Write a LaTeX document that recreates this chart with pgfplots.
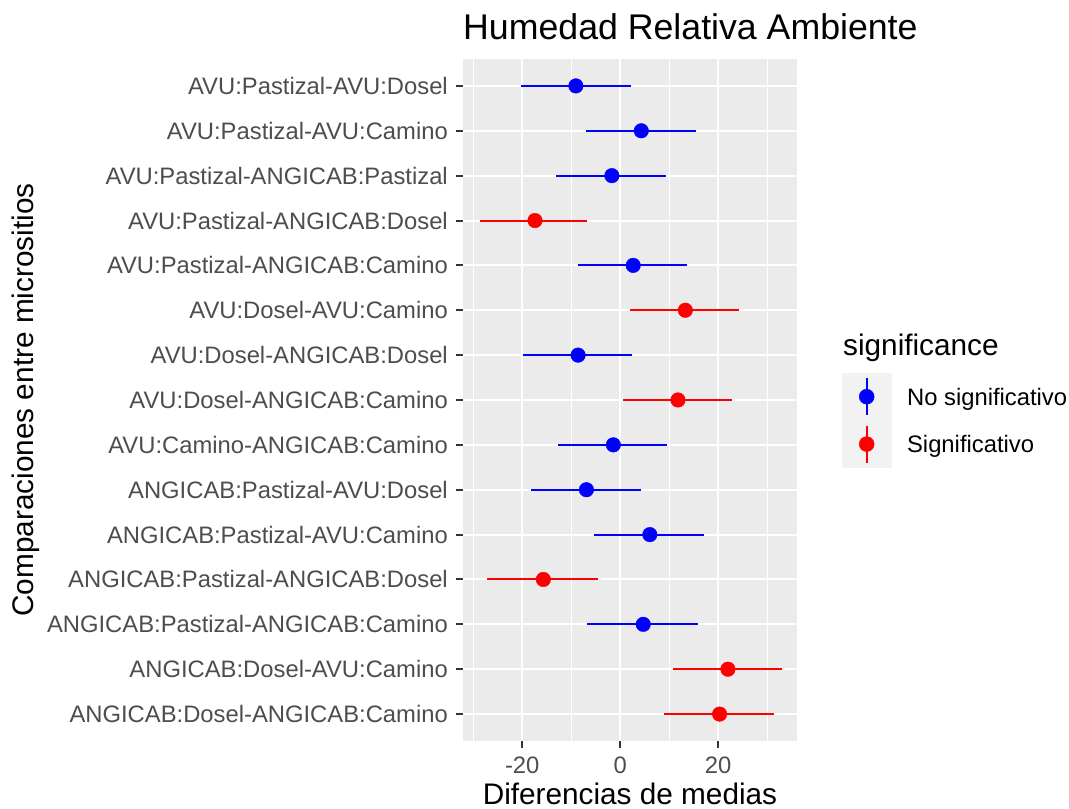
\documentclass[border=0pt]{standalone}
\usepackage{fontspec}
\setmainfont{Liberation Sans}
\usepackage{pgfplots}
\pgfplotsset{compat=1.18}
\usepackage{pgfplotstable}
\definecolor{panel}{HTML}{EBEBEB}
\definecolor{keybg}{HTML}{F2F2F2}
\definecolor{tickgray}{HTML}{4D4D4D}
\definecolor{tickline}{HTML}{333333}

\pgfplotstableread{
y est em ep
15 -9.05 11.25 11.25
14 4.3 11.3 11.1
13 -1.7 11.4 11.0
11 2.65 11.25 11.05
9 -8.6 11.3 11.05
7 -1.4 11.4 11.05
6 -6.9 11.3 11.05
5 6.05 11.35 11.05
3 4.7 11.4 11.1
}\nosig

\pgfplotstableread{
y est em ep
12 -17.4 11.3 10.7
10 13.3 11.4 10.9
8 11.8 11.3 11.1
4 -15.7 11.4 11.1
2 22.0 11.25 11.1
1 20.3 11.3 11.1
}\sig

\begin{document}
\begin{tikzpicture}
\begin{axis}[
  at={(463pt,68pt)}, anchor=south west,
  scale only axis, width=334pt, height=682pt,
  xmin=-32.1, xmax=36.1, ymin=0.4, ymax=15.6,
  axis background/.style={fill=panel},
  axis x line*=bottom, axis y line*=left,
  axis line style={draw=none},
  tick align=outside, major tick length=7.4pt, minor tick length=0pt,
  tick style={tickline, line width=2pt},
  xtick={-20,0,20}, xticklabels={-20,0,20},
  minor xtick={-30,-10,10,30},
  ytick={1,...,15},
  yticklabels={ANGICAB:Dosel-ANGICAB:Camino,ANGICAB:Dosel-AVU:Camino,ANGICAB:Pastizal-ANGICAB:Camino,ANGICAB:Pastizal-ANGICAB:Dosel,ANGICAB:Pastizal-AVU:Camino,ANGICAB:Pastizal-AVU:Dosel,AVU:Camino-ANGICAB:Camino,AVU:Dosel-ANGICAB:Camino,AVU:Dosel-ANGICAB:Dosel,AVU:Dosel-AVU:Camino,AVU:Pastizal-ANGICAB:Camino,AVU:Pastizal-ANGICAB:Dosel,AVU:Pastizal-ANGICAB:Pastizal,AVU:Pastizal-AVU:Camino,AVU:Pastizal-AVU:Dosel},
  xmajorgrids, xminorgrids, ymajorgrids,
  major grid style={white, line width=2pt},
  minor grid style={white, line width=1pt},
  ticklabel style={font=\fontsize{23.8}{26}\selectfont, text=tickgray},
  yticklabel style={anchor=east, inner sep=0pt, xshift=-7.6pt},
  xticklabel style={anchor=north, inner sep=0pt, yshift=-8.6pt},
  legend style={at={(1.13473,0.5396)}, anchor=north west, draw=none, fill=none,
    inner sep=0pt, outer sep=0pt, row sep=0pt, column sep=0pt,
    nodes={inner sep=0pt, text depth=0pt, font=\fontsize{23.8}{26}\selectfont, text=black},
    cells={anchor=base west}},
]
\addplot[only marks, mark=*, mark size=7.3pt, blue, mark options={fill=blue, draw=blue},
  legend image code/.code={
    \fill[keybg] (0pt,-15pt) rectangle (49pt,32pt);
    \draw[blue, line width=2pt] (24.5pt,-10pt) -- (24.5pt,27pt);
    \fill[blue] (24.5pt,8.5pt) circle (7.5pt);
    \path (64.7pt,0pt);
  },
  error bars/.cd, x dir=both, x explicit, error mark=none,
  error bar style={line width=2pt, blue}]
  table[x=est, y=y, x error minus=em, x error plus=ep]{\nosig};
\addlegendentry{No significativo}
\addplot[only marks, mark=*, mark size=7.3pt, red, mark options={fill=red, draw=red},
  legend image code/.code={
    \fill[keybg] (0pt,-15pt) rectangle (49pt,32pt);
    \draw[red, line width=2pt] (24.5pt,-10pt) -- (24.5pt,27pt);
    \fill[red] (24.5pt,8.5pt) circle (7.5pt);
    \path (64.7pt,0pt);
  },
  error bars/.cd, x dir=both, x explicit, error mark=none,
  error bar style={line width=2pt, red}]
  table[x=est, y=y, x error minus=em, x error plus=ep]{\sig};
\addlegendentry{Significativo}
\end{axis}
\node[anchor=base west, inner sep=0pt, font=\fontsize{35.7}{40}\selectfont] at (463pt,769pt) {Humedad Relativa Ambiente};
\node[anchor=base, inner sep=0pt, font=\fontsize{29.75}{32}\selectfont] at (630pt,4.5pt) {Diferencias de medias};
\node[rotate=90, anchor=base, inner sep=0pt, font=\fontsize{29.75}{32}\selectfont] at (33pt,409pt) {Comparaciones entre micrositios};
\node[anchor=base west, inner sep=0pt, font=\fontsize{29.75}{32}\selectfont] at (843pt,453.3pt) {significance};
\pgfresetboundingbox
\useasboundingbox (0pt,0pt) rectangle (1069pt,809pt);
\end{tikzpicture}
\end{document}
